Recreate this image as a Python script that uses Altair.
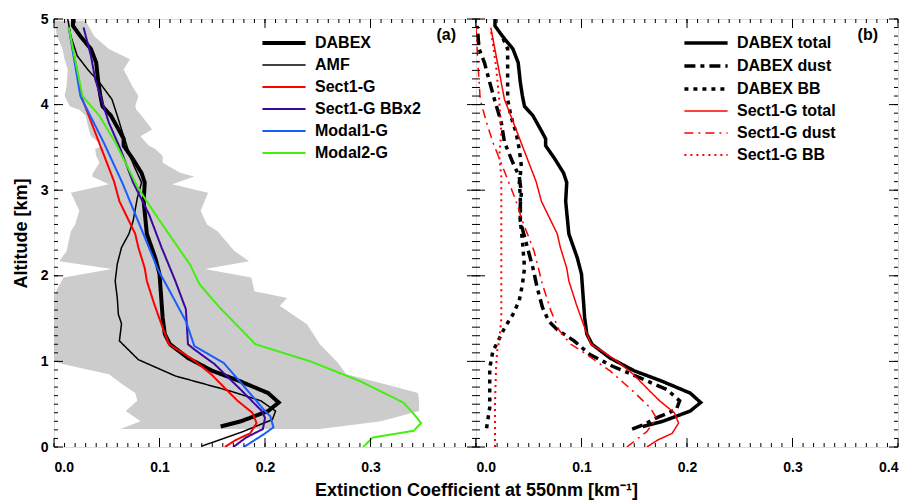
import altair as alt
import pandas as pd

# ---------------- data (altitude km, extinction km^-1) ----------------
dabex_alt = [0.24, 0.30, 0.42, 0.52, 0.63, 0.77, 0.89, 1.04, 1.20, 1.32, 1.51, 2.02, 2.21, 2.49,
             2.87, 3.09, 3.20, 3.36, 3.52, 3.60, 3.67, 3.87, 3.98, 4.10, 4.26, 4.49, 4.65, 4.80, 4.92, 5.0]
dabex_ext = [0.158, 0.177, 0.203, 0.213, 0.203, 0.176, 0.150, 0.127, 0.110, 0.105, 0.103, 0.100, 0.096, 0.088,
             0.085, 0.086, 0.083, 0.075, 0.066, 0.066, 0.063, 0.054, 0.046, 0.044, 0.042, 0.040, 0.035, 0.025, 0.018, 0.018]

amf_alt = [0.01, 0.17, 0.32, 0.42, 0.54, 0.65, 0.83, 1.02, 1.24, 1.44, 1.55, 1.74, 1.94, 2.14, 2.33, 2.49,
           2.64, 2.91, 3.09, 3.28, 3.40, 3.56, 3.71, 3.87, 4.06, 4.26, 4.41, 4.57, 4.80, 5.0]
amf_ext = [0.140, 0.177, 0.207, 0.210, 0.196, 0.168, 0.115, 0.080, 0.062, 0.064, 0.061, 0.060, 0.058, 0.060, 0.064, 0.071,
           0.075, 0.079, 0.083, 0.076, 0.072, 0.068, 0.064, 0.060, 0.055, 0.043, 0.032, 0.022, 0.016, 0.013]

sect_alt = [0.0, 0.08, 0.16, 0.28, 0.40, 0.54, 0.65, 0.85, 1.00, 1.10, 1.20, 1.36, 1.67, 1.94, 2.09, 2.33,
            2.49, 2.87, 3.10, 4.06, 4.90]
sect_ext = [0.162, 0.172, 0.186, 0.192, 0.188, 0.174, 0.165, 0.149, 0.134, 0.122, 0.109, 0.104, 0.095, 0.088, 0.086, 0.080,
            0.077, 0.062, 0.057, 0.027, 0.014]

bbx2_alt = [0.0, 0.11, 0.21, 0.34, 0.42, 0.67, 0.97, 1.14, 1.20, 1.61, 1.94, 2.33, 2.72, 3.09, 3.48, 3.79,
            4.02, 4.30, 4.57, 4.90]
bbx2_ext = [0.170, 0.182, 0.198, 0.200, 0.197, 0.177, 0.152, 0.133, 0.127, 0.125, 0.115, 0.102, 0.090, 0.075, 0.063, 0.052,
            0.046, 0.039, 0.035, 0.028]

modal1_alt = [0.0, 0.15, 0.23, 0.36, 0.42, 0.71, 0.98, 1.18, 1.47, 1.86, 2.06, 2.33, 2.72, 3.08, 3.56, 4.10, 4.90]
modal1_ext = [0.180, 0.199, 0.208, 0.205, 0.200, 0.180, 0.161, 0.133, 0.125, 0.108, 0.099, 0.090, 0.077, 0.065, 0.047, 0.025, 0.014]

modal2_alt = [0.0, 0.11, 0.19, 0.28, 0.40, 0.52, 0.77, 1.00, 1.20, 1.63, 1.90, 2.13, 2.45, 2.72, 3.02, 3.56,
              3.87, 4.10, 4.90]
modal2_ext = [0.293, 0.302, 0.341, 0.348, 0.340, 0.331, 0.290, 0.243, 0.191, 0.157, 0.138, 0.129, 0.111, 0.096, 0.080, 0.058,
              0.043, 0.027, 0.014]

dust_alt = [0.21, 0.26, 0.34, 0.44, 0.54, 0.67, 0.81, 0.94, 1.08, 1.24, 1.37, 1.47, 1.63, 1.86, 2.09, 2.41,
            2.64, 2.83, 2.97, 3.16, 3.32, 3.56, 3.79, 4.06, 4.26, 4.49, 4.65, 4.92]
dust_ext = [0.148, 0.159, 0.171, 0.190, 0.193, 0.181, 0.155, 0.130, 0.108, 0.093, 0.077, 0.069, 0.063, 0.058, 0.054, 0.047,
            0.042, 0.042, 0.043, 0.041, 0.035, 0.027, 0.024, 0.0175, 0.013, 0.008, 0.003, 0.001]

bb_alt = [0.22, 0.46, 0.69, 0.92, 1.12, 1.24, 1.39, 1.55, 1.71, 1.90, 2.09, 2.41, 2.64, 2.93, 3.09, 3.28,
          3.48, 3.67, 3.87, 4.06, 4.26, 4.45, 4.65, 4.82]
bb_ext = [0.010, 0.013, 0.013, 0.013, 0.016, 0.021, 0.027, 0.035, 0.041, 0.044, 0.046, 0.044, 0.042, 0.042, 0.041, 0.043,
          0.041, 0.038, 0.033, 0.030, 0.030, 0.030, 0.030, 0.024]

sdust_alt = [0.0, 0.18, 0.34, 0.46, 0.65, 0.89, 1.08, 1.20, 1.36, 1.59, 1.90, 2.29, 2.64, 2.87, 2.97, 3.28,
             3.56, 3.79, 4.06, 4.45, 4.90]
sdust_ext = [0.143, 0.162, 0.171, 0.165, 0.149, 0.127, 0.105, 0.090, 0.079, 0.071, 0.063, 0.055, 0.044, 0.038, 0.035, 0.025,
             0.016, 0.010, 0.004, 0.002, 0.0]

sbb_alt = [0.0, 0.50, 0.92, 1.12, 1.24, 1.50, 2.00, 2.70, 3.16, 3.40, 3.67, 4.06, 4.45, 4.88]
sbb_ext = [0.018, 0.018, 0.019, 0.020, 0.022, 0.024, 0.024, 0.024, 0.024, 0.022, 0.024, 0.022, 0.019, 0.014]

# grey range of observations
band_alt = [0.21, 0.30, 0.42, 0.54, 0.63, 0.73, 0.85, 0.97, 1.0, 1.2, 1.43, 1.65, 1.74, 1.82, 1.98, 2.08,
            2.17, 2.29, 2.52, 2.6, 2.76, 2.97, 3.07, 3.16, 3.2, 3.32, 3.4, 3.48, 3.52, 3.63, 3.71, 3.87,
            3.94, 3.98, 4.1, 4.22, 4.41, 4.53, 4.65, 4.8, 4.98]
band_lo = [0.063, 0.082, 0.068, 0.079, 0.077, 0.065, 0.052, 0.008, 0.0, 0.0, 0.0, 0.0, 0.0, 0.002, 0.009, 0.055,
           0.005, 0.012, 0.016, 0.020, 0.024, 0.016, 0.052, 0.036, 0.037, 0.043, 0.040, 0.039, 0.046, 0.035, 0.033, 0.030,
           0.024, 0.015, 0.010, 0.012, 0.013, 0.010, 0.008, 0.003, 0.0]
band_hi = [0.252, 0.310, 0.346, 0.346, 0.345, 0.315, 0.277, 0.270, 0.268, 0.252, 0.240, 0.214, 0.221, 0.190, 0.187, 0.143,
           0.185, 0.171, 0.155, 0.145, 0.139, 0.146, 0.112, 0.133, 0.120, 0.103, 0.103, 0.096, 0.090, 0.082, 0.093, 0.083,
           0.078, 0.077, 0.080, 0.074, 0.066, 0.072, 0.052, 0.038, 0.030]

series_a = ["DABEX", "AMF", "Sect1-G", "Sect1-G BBx2", "Modal1-G", "Modal2-G"]
series_b = ["DABEX total", "DABEX dust", "DABEX BB", "Sect1-G total", "Sect1-G dust", "Sect1-G BB"]

x_major = [0.0, 0.1, 0.2, 0.3, 0.4]
x_minor = [round(i * 0.01, 2) for i in range(41)]
y_major = [0, 1, 2, 3, 4, 5]
y_minor = [round(i * 0.1, 1) for i in range(51)]

# ---------------- build tables ----------------
def long_table(names, pairs):
    rows = []
    for name, (a, e) in zip(names, pairs):
        for ai, ei in zip(a, e):
            rows.append({"series": name, "alt": ai, "ext": ei})
    return pd.DataFrame(rows)

df_a = long_table(series_a, [(dabex_alt, dabex_ext), (amf_alt, amf_ext), (sect_alt, sect_ext),
                             (bbx2_alt, bbx2_ext), (modal1_alt, modal1_ext), (modal2_alt, modal2_ext)])
df_b = long_table(series_b, [(dabex_alt, dabex_ext), (dust_alt, dust_ext), (bb_alt, bb_ext),
                             (sect_alt, sect_ext), (sdust_alt, sdust_ext), (sbb_alt, sbb_ext)])
df_band = pd.DataFrame({"alt": band_alt, "lo": band_lo, "hi": band_hi})

W, H = 422, 428
FONT = "Liberation Sans"
xs = alt.Scale(domain=[0, 0.4], nice=False, zero=False)
ys = alt.Scale(domain=[0, 5], nice=False, zero=False)

LBL = dict(labelFont=FONT, labelFontSize=14, labelFontWeight="bold", labelColor="black")
xaxis_a = alt.Axis(values=x_major[:4], format=".1f", ticks=False, domain=False, grid=False,
                   labelPadding=13, title="Extinction Coefficient at 550nm [km\u207b\u00b9]",
                   titleFont=FONT, titleFontSize=18, titleFontWeight="bold", titleColor="black",
                   titleX=W, titlePadding=7, **LBL)
yaxis_a = alt.Axis(values=y_major, format="d", ticks=False, domain=False, grid=False,
                   labelPadding=6, title="Altitude [km]", titleFont=FONT, titleFontSize=18,
                   titleFontWeight="bold", titleColor="black", titlePadding=10, **LBL)
xaxis_b = alt.Axis(values=x_major, format=".1f", ticks=False, domain=False, grid=False,
                   labelPadding=13, title=None, **LBL)
yaxis_b = alt.Axis(values=y_major, labels=False, ticks=False, domain=False, grid=False, title=None)


def tick_layers(xaxis, yaxis):
    layers = []
    for vals, ln in [(y_minor, 4), (y_major, 9)]:
        base = alt.Chart(pd.DataFrame({"v": vals})).mark_rule(color="black", strokeWidth=1)
        yy = alt.Y("v:Q", scale=ys, axis=yaxis)
        layers.append(base.encode(y=yy, x=alt.value(0), x2=alt.value(ln)))
        layers.append(base.encode(y=yy, x=alt.value(W), x2=alt.value(W - ln)))
    for vals, ln in [(x_minor, 4), (x_major, 9)]:
        base = alt.Chart(pd.DataFrame({"v": vals})).mark_rule(color="black", strokeWidth=1)
        xx = alt.X("v:Q", scale=xs, axis=xaxis)
        layers.append(base.encode(x=xx, y=alt.value(H), y2=alt.value(H - ln)))
        layers.append(base.encode(x=xx, y=alt.value(0), y2=alt.value(ln)))
    return layers


def legend_spec():
    return alt.Legend(orient="none", legendX=W - 202, legendY=14, title=None,
                      symbolType="M-2.7,0H2.7", symbolSize=256, labelOffset=21,
                      labelFont=FONT, labelFontSize=16, labelFontWeight="bold",
                      labelColor="black", rowPadding=5, padding=0)


def lines(df, names, colors, widths, dashes, xaxis, yaxis):
    return alt.Chart(df).mark_line(clip=True).encode(
        x=alt.X("ext:Q", scale=xs, axis=xaxis),
        y=alt.Y("alt:Q", scale=ys, axis=yaxis),
        color=alt.Color("series:N", scale=alt.Scale(domain=names, range=colors), legend=legend_spec()),
        strokeWidth=alt.StrokeWidth("series:N", scale=alt.Scale(type="ordinal", domain=names, range=widths),
                                    legend=legend_spec()),
        strokeDash=alt.StrokeDash("series:N", scale=alt.Scale(domain=names, range=dashes), legend=legend_spec()),
        order=alt.Order("alt:Q"),
    )


def panel_label(txt):
    return alt.Chart(pd.DataFrame({"label": [txt]})).mark_text(
        align="right", baseline="top", font=FONT, fontSize=16, fontWeight="bold", color="black"
    ).encode(text="label:N", x=alt.value(W - 20), y=alt.value(8))


band = alt.Chart(df_band).mark_area(orient="horizontal", color="#cccccc", opacity=1, clip=True).encode(
    y=alt.Y("alt:Q", scale=ys, axis=yaxis_a),
    x=alt.X("lo:Q", scale=xs, axis=xaxis_a),
    x2=alt.X2("hi:Q"),
)

lines_a = lines(df_a, series_a,
                ["#000000", "#000000", "#ff0000", "#3a0a9e", "#1a5cff", "#44ee11"],
                [4, 1.5, 2, 2, 2, 2],
                [[1, 0], [1, 0], [1, 0], [1, 0], [1, 0], [1, 0]],
                xaxis_a, yaxis_a)

lines_b = lines(df_b, series_b,
                ["#000000", "#000000", "#000000", "#ff0000", "#ff0000", "#ff0000"],
                [3.5, 3.5, 3.5, 1.5, 1.5, 2],
                [[1, 0], [11, 5, 4, 5], [4, 5], [1, 0], [9, 5, 2, 5], [2, 4]],
                xaxis_b, yaxis_b)

panel_a = alt.layer(band, lines_a, *tick_layers(xaxis_a, yaxis_a), panel_label("(a)")).properties(width=W, height=H)
panel_b = alt.layer(lines_b, *tick_layers(xaxis_b, yaxis_b), panel_label("(b)")).properties(width=W, height=H)

chart = alt.hconcat(panel_a, panel_b, spacing=0, bounds="flush").resolve_scale(
    color="independent", strokeWidth="independent", strokeDash="independent"
).resolve_legend(
    color="independent", strokeWidth="independent", strokeDash="independent"
).properties(
    padding={"left": 3, "top": 3, "right": 0, "bottom": 0}
).configure_view(stroke="black", strokeWidth=1.2).configure(background="white")

chart.save("out.html", embed_options={"renderer": "svg", "actions": False})
